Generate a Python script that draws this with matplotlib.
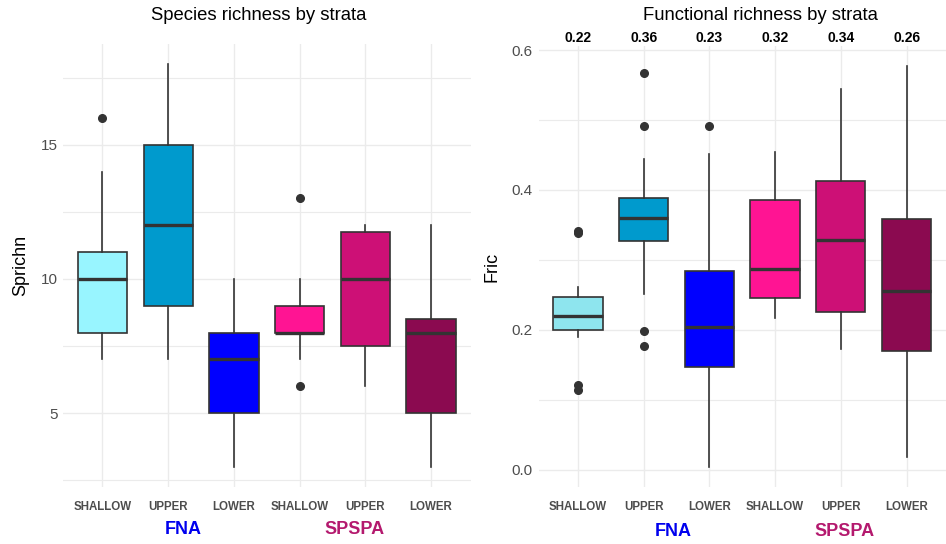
import matplotlib
matplotlib.use("Agg")
import matplotlib.pyplot as plt
from matplotlib.ticker import MultipleLocator

plt.rcParams['font.family'] = ['Liberation Sans', 'DejaVu Sans']

strata = ["SHALLOW", "UPPER", "LOWER", "SHALLOW", "UPPER", "LOWER"]
box_colors = ["#98F5FF", "#009ACD", "#0000FF", "#FF1493", "#CD1076", "#8B0A50"]
box_colors_fric = ["#8EE5EE", "#009ACD", "#0000FF", "#FF1493", "#CD1076", "#8B0A50"]

# species richness: whisker low, q1, median, q3, whisker high, outliers
sp_lo = [7, 7, 3, 7, 6, 3]
sp_q1 = [8, 9, 5, 8, 7.5, 5]
sp_med = [10, 12, 7, 8, 10, 8]
sp_q3 = [11, 15, 8, 9, 11.75, 8.5]
sp_hi = [14, 18, 10, 10, 12, 12]
sp_out = [[16], [], [], [13, 6], [], []]

# functional richness
fr_lo = [0.190, 0.251, 0.004, 0.217, 0.172, 0.0175]
fr_q1 = [0.200, 0.327, 0.147, 0.245, 0.2255, 0.169]
fr_med = [0.220, 0.360, 0.204, 0.2875, 0.328, 0.256]
fr_q3 = [0.247, 0.389, 0.284, 0.385, 0.413, 0.358]
fr_hi = [0.261, 0.445, 0.451, 0.455, 0.544, 0.577]
fr_out = [[0.341, 0.338, 0.1215, 0.114], [0.567, 0.492, 0.198, 0.177], [0.492], [], [], []]
fr_means = ["0.22", "0.36", "0.23", "0.32", "0.34", "0.26"]

DARK = "#333333"
GRID = "#EBEBEB"


def stats(lo, q1, med, q3, hi, out):
    return [dict(whislo=a, q1=b, med=c, q3=d, whishi=e, fliers=f)
            for a, b, c, d, e, f in zip(lo, q1, med, q3, hi, out)]


def draw(ax, st, colors, ylim, major, minor):
    pos = list(range(1, len(st) + 1))
    bp = ax.bxp(st, positions=pos, widths=0.75, patch_artist=True,
                showcaps=False, zorder=3,
                boxprops=dict(edgecolor=DARK, linewidth=1.2),
                whiskerprops=dict(color=DARK, linewidth=1.2),
                medianprops=dict(color=DARK, linewidth=2.4),
                flierprops=dict(marker='o', markerfacecolor=DARK,
                                markeredgecolor=DARK, markersize=5.5))
    for patch, c in zip(bp['boxes'], colors):
        patch.set_facecolor(c)
    ax.set_xlim(0.4, 6.6)
    ax.set_ylim(*ylim)
    ax.yaxis.set_major_locator(MultipleLocator(major))
    ax.yaxis.set_minor_locator(MultipleLocator(minor))
    ax.grid(True, which='major', color=GRID, linewidth=1.0, zorder=0)
    ax.grid(True, which='minor', axis='y', color=GRID, linewidth=0.8, zorder=0)
    ax.set_axisbelow(True)
    for s in ax.spines.values():
        s.set_visible(False)
    ax.tick_params(which='both', length=0)
    ax.tick_params(axis='y', labelsize=11, labelcolor="#4D4D4D", pad=4)
    ax.set_xticks(pos)
    ax.set_xticklabels(strata, fontsize=8.3, fontweight='bold', color="#4D4D4D")
    ax.tick_params(axis='x', pad=10)


fig = plt.figure(figsize=(9.46, 5.44), dpi=100)

ax1 = fig.add_axes([63 / 946, 1 - 487 / 544, 407.5 / 946, 443 / 544])
draw(ax1, stats(sp_lo, sp_q1, sp_med, sp_q3, sp_hi, sp_out), box_colors,
     (2.25, 18.75), 5, 2.5)
ax1.set_ylabel("Sprichn", fontsize=13, labelpad=8)
fig.text(259 / 946, 1 - 16 / 544, "Species richness by strata", fontsize=13.3,
         ha='center', va='center')

ax2 = fig.add_axes([538.5 / 946, 1 - 487 / 544, 407.5 / 946, 441 / 544])
draw(ax2, stats(fr_lo, fr_q1, fr_med, fr_q3, fr_hi, fr_out), box_colors_fric,
     (-0.025, 0.606), 0.2, 0.1)
ax2.set_ylabel("Fric", fontsize=13, labelpad=8)
for i, m in enumerate(fr_means):
    ax2.text(i + 1, 0.618, m, ha='center', va='center', fontsize=10,
             fontweight='bold', clip_on=False)
fig.text(760 / 946, 1 - 15 / 544, "Functional richness by strata", fontsize=13.3,
         ha='center', va='center')

# group labels
fig.text(183 / 946, 1 - 529 / 544, "FNA", color="#0000EE", fontsize=13,
         fontweight='bold', ha='center', va='center')
fig.text(355 / 946, 1 - 529 / 544, "SPSPA", color="#B4196E", fontsize=13,
         fontweight='bold', ha='center', va='center')
fig.text(673 / 946, 1 - 531 / 544, "FNA", color="#0000EE", fontsize=13,
         fontweight='bold', ha='center', va='center')
fig.text(845 / 946, 1 - 531 / 544, "SPSPA", color="#B4196E", fontsize=13,
         fontweight='bold', ha='center', va='center')

fig.savefig("out.png", dpi=100, facecolor='white')
